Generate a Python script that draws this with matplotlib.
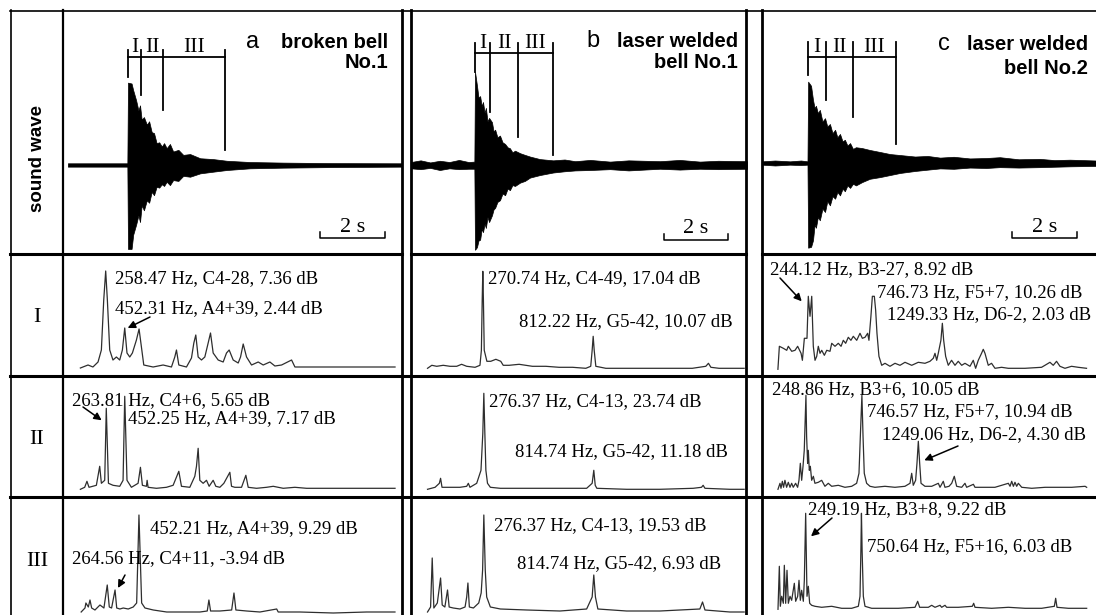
import matplotlib.pyplot as plt

plt.rcParams['font.family'] = 'Liberation Serif'

W, H = 1096, 615

# ---------------- sound waves (envelope of the signal) ----------------
wave_a_t = [0.15, 1.98, 2.00, 2.11, 2.16, 2.25, 2.32, 2.37, 2.42, 2.49, 2.58, 2.65, 2.73, 2.80, 2.88,
            2.96, 3.04, 3.11, 3.19, 3.29, 3.39, 3.55, 3.70, 3.91, 4.22, 4.62, 5.04, 5.75, 6.78, 8.32, 10.43]
wave_a_hi = [0.02, 0.02, 0.98, 0.97, 0.89, 0.77, 0.65, 0.71, 0.54, 0.57, 0.48, 0.52, 0.39, 0.38, 0.26,
             0.27, 0.22, 0.26, 0.20, 0.25, 0.16, 0.18, 0.12, 0.13, 0.08, 0.07, 0.05, 0.035, 0.028, 0.022, 0.02]
wave_a_lo = [-0.02, -0.02, -1.0, -1.0, -0.83, -0.71, -0.6, -0.68, -0.48, -0.54, -0.42, -0.45, -0.32, -0.36, -0.26,
             -0.27, -0.23, -0.25, -0.2, -0.24, -0.18, -0.19, -0.13, -0.14, -0.1, -0.08, -0.06, -0.04, -0.032,
             -0.025, -0.02]

wave_b_t = [0, 0.3, 0.6, 0.9, 1.2, 1.5, 1.8, 1.98, 2.0, 2.06, 2.11, 2.16, 2.21, 2.25, 2.30, 2.34, 2.39, 2.44,
            2.53, 2.58, 2.63, 2.70, 2.78, 2.86, 2.94, 3.02, 3.09, 3.17, 3.25, 3.41, 3.56, 3.72, 4.03, 4.44, 4.8,
            5.13, 5.6, 6.22, 6.8, 7.78, 8.4, 9.03, 9.6, 10.5]
wave_b_hi = [0.035, 0.055, 0.03, 0.05, 0.035, 0.06, 0.035, 0.04, 1.11, 0.95, 0.80, 0.82, 0.70, 0.75, 0.62,
             0.68, 0.52, 0.56, 0.51, 0.40, 0.42, 0.33, 0.35, 0.27, 0.25, 0.21, 0.20, 0.15, 0.17, 0.14, 0.12, 0.10,
             0.07, 0.055, 0.065, 0.045, 0.06, 0.04, 0.055, 0.045, 0.06, 0.04, 0.05, 0.045]
wave_b_lo = [-0.04, -0.05, -0.035, -0.06, -0.04, -0.05, -0.045, -0.045, -1.01, -0.98, -0.90, -0.89, -0.76,
             -0.80, -0.70, -0.75, -0.62, -0.68, -0.60, -0.53, -0.51, -0.44, -0.42, -0.34, -0.36, -0.28, -0.30,
             -0.24, -0.25, -0.21, -0.19, -0.15, -0.12, -0.09, -0.075, -0.065, -0.06, -0.05, -0.065, -0.045, -0.055,
             -0.045, -0.05, -0.045]

wave_c_t = [0, 0.4, 0.86, 1.2, 1.40, 1.42, 1.51, 1.57, 1.62, 1.66, 1.72, 1.78, 1.86, 1.94, 2.01, 2.09, 2.17,
            2.25, 2.32, 2.40, 2.48, 2.55, 2.63, 2.71, 2.80, 2.89, 3.08, 3.32, 3.63, 3.94, 4.25, 4.71, 5.1, 5.48,
            5.9, 6.40, 6.9, 7.32, 7.9, 8.55, 9.0, 9.48, 10.28]
wave_c_hi = [0.02, 0.03, 0.02, 0.03, 0.02, 0.98, 0.93, 0.76, 0.66, 0.69, 0.60, 0.64, 0.50, 0.54, 0.44, 0.47,
             0.36, 0.40, 0.31, 0.35, 0.26, 0.28, 0.21, 0.24, 0.17, 0.19, 0.18, 0.157, 0.133, 0.108, 0.096, 0.078,
             0.085, 0.065, 0.075, 0.055, 0.06, 0.07, 0.045, 0.05, 0.035, 0.04, 0.03]
wave_c_lo = [-0.02, -0.03, -0.02, -0.025, -0.02, -1.02, -1.01, -0.93, -0.74, -0.78, -0.65, -0.69, -0.55, -0.59,
             -0.46, -0.51, -0.40, -0.43, -0.35, -0.39, -0.31, -0.34, -0.27, -0.30, -0.25, -0.27, -0.23, -0.19,
             -0.17, -0.145, -0.12, -0.096, -0.08, -0.065, -0.07, -0.055, -0.06, -0.05, -0.055, -0.05, -0.045,
             -0.04, -0.035]

# segment boundaries I / II / III (s) and how far each marker drops
seg_a = [2.0, 2.4, 3.08, 4.98]
seg_a_end = [1.05, 0.83, 0.65, 0.18]
seg_b = [2.0, 2.47, 3.34, 4.44]
seg_b_end = [1.11, 0.63, 0.33, 0.12]
seg_c = [1.42, 1.97, 2.80, 4.12]
seg_c_end = [1.06, 0.76, 0.55, 0.23]
seg_names = ['I', 'II', 'III']

# ---------------- spectra: frequency (Hz) / level (relative) ----------------
f_aI = [0, 78, 128, 180, 214, 238, 258, 275, 299, 332, 367, 401, 428, 452, 475, 503, 530, 571, 598, 622,
        646, 741, 843, 928, 962, 979, 1003, 1081, 1132, 1156, 1176, 1200, 1234, 1268, 1302, 1326, 1353, 1404,
        1455, 1489, 1516, 1557, 1608, 1632, 1659, 1693, 1744, 1812, 1863, 1931, 1982, 2050, 2152, 2186, 2339,
        2577, 2917, 3206]
l_aI = [-1, 2, 0, 5, 17, 67, 96, 67, 17, 7, 10, 7, 17, 39, 14, 10, 14, 27, 38, 20, 2, 0, 2, 0, 10, 17, 2, 0,
        9, 24, 32, 10, 7, 10, 24, 34, 14, 7, 5, 14, 17, 7, 4, 10, 23, 10, 2, 5, 2, 5, 1, 2, 7, 0, 0, 0, 0, 0]

f_aII = [0, 44, 67, 88, 163, 197, 214, 248, 264, 286, 333, 401, 435, 452, 475, 520, 588, 612, 632, 673, 680,
         690, 775, 877, 945, 1003, 1030, 1115, 1166, 1183, 1200, 1217, 1251, 1285, 1312, 1353, 1380, 1421, 1462,
         1523, 1540, 1574, 1642, 1686, 1710, 1795, 1897, 1965, 2067, 2186, 2305, 2441, 2577, 2917, 3206]
l_aII = [-1, 1, 7, 1, 3, 22, 5, 8, 80, 5, 3, 2, 8, 92, 8, 1, 5, 21, 3, 2, 8, 1, 0, 1, 3, 17, 2, 1, 12, 22,
         40, 8, 5, 8, 2, 8, 2, 1, 5, 16, 2, 1, 1, 13, 1, 0, 1, 2, 0, 1, 0, 0, 0, 0, 0]

f_aIII = [0, 30, 37, 56, 69, 82, 108, 147, 178, 204, 220, 238, 265, 278, 303, 329, 368, 407, 434, 452, 473,
          499, 564, 616, 669, 798, 929, 986, 999, 1012, 1085, 1177, 1195, 1210, 1294, 1398, 1529, 1541, 1711,
          1971, 2233, 2454]
l_aIII = [-1, 3, 8, 4, 11, 3, 1, 6, 3, 26, 4, 3, 21, 3, 2, 3, 2, 4, 8, 96, 8, 3, 1, 0, -1, -1, -1, 0, 11, 0,
          0, 1, 18, 1, 0, -1, 2, -1, -1, -2, -1, -1]

f_bI = [0, 21, 45, 77, 110, 143, 167, 192, 233, 257, 264, 268, 271, 274, 278, 291, 310, 335, 359, 371, 400,
        449, 514, 580, 645, 711, 776, 800, 807, 812, 817, 825, 874, 972, 1135, 1298, 1364, 1377, 1389, 1429,
        1478, 1552]
l_bI = [-1, 2, 1, 2, 1, 1, 3, 1, 0, 2, 17, 67, 96, 67, 17, 6, 6, 8, 6, 2, 2, 3, 1, 1, 0, 0, -1, 1, 17, 31,
        17, 1, -1, -1, -1, -1, 1, 4, 0, -1, -1, -1]

f_bII = [0, 37, 58, 64, 71, 110, 159, 192, 200, 208, 241, 262, 271, 276, 281, 286, 294, 308, 357, 487, 649,
         780, 807, 815, 822, 830, 976, 1139, 1302, 1343, 1351, 1360, 1482, 1552]
l_bII = [-1, 1, 5, 10, 1, 1, 1, 2, 5, 1, 5, 18, 55, 95, 55, 18, 5, 1, 0, 0, 0, 0, 5, 18, 3, 0, -1, -1, 0, 1,
         3, 0, -1, -1]

f_bIII = [0, 15, 23, 31, 48, 64, 72, 85, 98, 106, 126, 159, 184, 192, 198, 205, 225, 251, 263, 270, 276, 283,
          290, 308, 357, 487, 649, 780, 807, 815, 823, 835, 976, 1139, 1335, 1348, 1360, 1482, 1552]
l_bIII = [-2, 3, 52, 2, 7, 32, 5, 3, 20, 3, 2, 1, 3, 13, 27, 3, 2, 7, 17, 40, 95, 40, 13, 3, 1, 0, -1, 1, 13,
          35, 13, 1, -1, -1, 1, 8, 0, -2, -2]

f_cI = [0, 11, 41, 67, 79, 105, 130, 150, 176, 186, 201, 221, 231, 244, 257, 269, 282, 295, 307, 320, 333,
        353, 371, 396, 409, 434, 459, 480, 497, 515, 535, 555, 573, 599, 624, 642, 662, 682, 692, 707, 718,
        733, 743, 753, 768, 789, 814, 852, 890, 928, 966, 1017, 1067, 1118, 1156, 1181, 1194, 1207, 1219, 1239,
        1250, 1260, 1275, 1295, 1320, 1346, 1371, 1397, 1422, 1460, 1485, 1503, 1523, 1548, 1561, 1574, 1599,
        1624, 1650, 1700, 1751, 1878, 2004, 2030, 2068, 2093, 2118, 2144, 2182, 2232, 2283, 2346]
l_cI = [-1, 22, 20, 18, 22, 17, 18, 22, 15, 8, 30, 30, 72, 52, 72, 22, 8, 12, 22, 15, 18, 13, 18, 17, 25, 22,
        25, 22, 28, 25, 31, 28, 32, 28, 35, 30, 31, 35, 28, 52, 72, 72, 58, 35, 12, 3, 5, 2, 5, 3, 6, 3, 6, 5,
        7, 10, 15, 8, 15, 28, 45, 28, 12, 3, 8, 3, 7, 3, 5, 2, 8, 0, 8, 15, 19, 15, 3, 5, 0, 1, 0, 0, 1, 3, 6,
        3, 7, 2, 0, 2, 1, 0]

f_cII = [0, 18, 27, 39, 50, 62, 77, 92, 107, 122, 136, 157, 175, 187, 199, 211, 223, 234, 249, 255, 264, 270,
         279, 288, 300, 315, 329, 359, 389, 418, 448, 478, 537, 596, 656, 700, 721, 733, 747, 757, 768, 789,
         819, 863, 952, 1041, 1130, 1175, 1190, 1204, 1225, 1237, 1249, 1261, 1273, 1308, 1368, 1427, 1442,
         1471, 1486, 1522, 1546, 1569, 1590, 1635, 1664, 1679, 1739, 1753, 1842, 1931, 2050, 2065, 2080, 2095,
         2109, 2124, 2139, 2169, 2258, 2377, 2495, 2614, 2733, 2747]
l_cII = [-1, 5, 0, 7, 1, 8, 1, 6, 1, 5, 1, 5, 1, 8, 25, 8, 22, 38, 93, 52, 25, 38, 18, 22, 8, 12, 5, 6, 8, 2,
         5, 2, 3, 1, 2, 5, 15, 52, 93, 52, 15, 5, 2, 1, 2, 1, 2, 5, 15, 3, 8, 25, 47, 25, 5, 2, 2, 5, 1, 7, 1,
         2, 5, 12, 2, 1, 5, 1, 4, 1, 1, 1, 5, 2, 7, 2, 6, 2, 5, 1, 0, 1, 1, 1, 2, 1]

f_cIII = [0, 12, 21, 33, 48, 57, 69, 81, 93, 108, 123, 147, 159, 177, 189, 201, 213, 228, 237, 249, 261, 273,
          285, 303, 333, 393, 483, 573, 663, 723, 738, 746, 751, 757, 768, 783, 843, 963, 1083, 1233, 1257,
          1275, 1353, 1383, 1413, 1458, 1473, 1503, 1518, 1623, 1749, 1761, 1773, 1923, 2073, 2223, 2373, 2487,
          2499, 2511, 2613, 2778]
l_cIII = [-1, 42, 2, 12, 5, 43, 5, 38, 5, 12, 8, 25, 7, 12, 28, 8, 18, 7, 28, 95, 12, 22, 5, 3, 2, 1, 2, 0, 0,
          2, 12, 58, 95, 58, 12, 2, 0, 0, 0, 1, 7, 1, 1, 3, 1, 3, 1, 3, 1, 1, 2, 5, 1, 0, 1, 0, 0, 2, 10, 1, 0, 0]

# peak labels
notes_aI = ['258.47 Hz, C4-28, 7.36 dB', '452.31 Hz, A4+39, 2.44 dB']
notes_aII = ['263.81 Hz, C4+6, 5.65 dB', '452.25 Hz, A4+39, 7.17 dB']
notes_aIII = ['452.21 Hz, A4+39, 9.29 dB', '264.56 Hz, C4+11, -3.94 dB']
notes_bI = ['270.74 Hz, C4-49, 17.04 dB', '812.22 Hz, G5-42, 10.07 dB']
notes_bII = ['276.37 Hz, C4-13, 23.74 dB', '814.74 Hz, G5-42, 11.18 dB']
notes_bIII = ['276.37 Hz, C4-13, 19.53 dB', '814.74 Hz, G5-42, 6.93 dB']
notes_cI = ['244.12 Hz, B3-27, 8.92 dB', '746.73 Hz, F5+7, 10.26 dB', '1249.33 Hz, D6-2, 2.03 dB']
notes_cII = ['248.86 Hz, B3+6, 10.05 dB', '746.57 Hz, F5+7, 10.94 dB', '1249.06 Hz, D6-2, 4.30 dB']
notes_cIII = ['249.19 Hz, B3+8, 9.22 dB', '750.64 Hz, F5+16, 6.03 dB']

titles = [('a', 'broken bell', 'No.1'), ('b', 'laser welded', 'bell No.1'), ('c', 'laser welded', 'bell No.2')]

# ---------------- layout ----------------
fig = plt.figure(figsize=(W / 100, H / 100), dpi=100)

cols = [(63, 402), (411, 747), (762, 1096)]
rows = [(10, 254), (254, 375), (375, 497), (497, 615)]


def cell(c, r):
    x0, x1 = cols[c]
    y0, y1 = rows[r]
    ax = fig.add_axes([x0 / W, 1 - y1 / H, (x1 - x0) / W, (y1 - y0) / H])
    ax.axis('off')
    return ax


# overlay in pixel units for frame lines and row labels
frame = fig.add_axes([0, 0, 1, 1], zorder=5)
frame.set_xlim(0, W)
frame.set_ylim(H, 0)
frame.axis('off')

# sound waves
waves = [(wave_a_t, wave_a_hi, wave_a_lo, seg_a, seg_a_end, 1.29, 1.37, (7.9, 9.9), -0.87, (-1.06, 1.845)),
         (wave_b_t, wave_b_hi, wave_b_lo, seg_b, seg_b_end, 1.33, 1.45, (7.9, 9.9), -0.89, (-1.06, 1.845)),
         (wave_c_t, wave_c_hi, wave_c_lo, seg_c, seg_c_end, 1.28, 1.46, (7.7, 9.7), -0.90, (-1.096, 1.843))]
spans = [10.43, 10.5, 10.28]
title_pos = [(0.959, 0.844, 0.762, 0.578), (0.973, 0.850, 0.762, 0.56), (0.976, 0.836, 0.738, 0.563)]

for i, (t, hi, lo, seg, seg_end, bar_y, top_y, sbar, sbar_y, ylim) in enumerate(waves):
    ax = cell(i, 0)
    ax.set_xlim(0, spans[i])
    ax.set_ylim(*ylim)
    ax.fill_between(t, lo, hi, color='black', lw=0.5)
    # segment markers
    ax.plot([seg[0], seg[-1]], [bar_y, bar_y], color='black', lw=1.3)
    for s, e in zip(seg, seg_end):
        ax.plot([s, s], [top_y, e], color='black', lw=1.3)
    for k, name in enumerate(seg_names):
        ax.text((seg[k] + seg[k + 1]) / 2, bar_y + 0.06, name, ha='center', va='baseline', fontsize=15.5)
    # 2 s scale bar
    ax.plot([sbar[0], sbar[0], sbar[1], sbar[1]], [sbar_y + 0.07, sbar_y, sbar_y, sbar_y + 0.07],
            color='black', lw=1.1)
    ax.text((sbar[0] + sbar[1]) / 2, sbar_y + 0.075, '2 s', ha='center', va='baseline', fontsize=16)
    # titles
    letter, line1, line2 = titles[i]
    xr, yb1, yb2, xl = title_pos[i]
    ax.text(xr, yb1, line1, transform=ax.transAxes, ha='right', va='baseline', fontsize=14.5,
            fontweight='bold', family='Liberation Sans')
    ax.text(xr, yb2, line2, transform=ax.transAxes, ha='right', va='baseline', fontsize=14.5,
            fontweight='bold', family='Liberation Sans')
    ax.text(xl, yb1, letter, transform=ax.transAxes, ha='right', va='baseline', fontsize=17,
            family='Liberation Sans')

# spectra
spectra = [[(f_aI, l_aI), (f_aII, l_aII), (f_aIII, l_aIII)],
           [(f_bI, l_bI), (f_bII, l_bII), (f_bIII, l_bIII)],
           [(f_cI, l_cI), (f_cII, l_cII), (f_cIII, l_cIII)]]
xlims = [[(-177, 3277), (-177, 3277), (-142, 2509)],
         [(-81, 1566), (-81, 1566), (-81, 1566)],
         [(-121, 2418), (-142, 2830), (-144, 2862)]]
ylims = [[(-8, 113), (-8.7, 113.3), (-4, 114)],
         [(-7.7, 113.3), (-8.7, 113.3), (-5, 113)],
         [(-6.7, 114.3), (-8.7, 113.3), (-6.7, 111.3)]]
notes = [[notes_aI, notes_aII, notes_aIII], [notes_bI, notes_bII, notes_bIII], [notes_cI, notes_cII, notes_cIII]]
note_xy = [[[(115, 283.5), (115, 313.5)], [(72, 405), (128, 423.5)], [(150, 533.5), (72, 563.5)]],
           [[(488, 283.5), (519, 326.5)], [(489, 406.5), (515, 456.5)], [(494, 530.5), (517, 568.5)]],
           [[(770, 274.5), (877, 297.5), (887, 319.5)], [(772, 394.5), (867, 416.5), (882, 439.5)],
            [(808, 514.5), (867, 551.5)]]]
# arrows: (column, row, tail in px, head at (Hz, level))
arrows = [(0, 0, (150, 317), (482, 39)), (0, 1, (83, 407), (217, 68)), (0, 2, (125, 575), (288, 23)),
          (2, 0, (780, 278), (181, 67)), (2, 1, (958, 446), (1302, 28)), (2, 2, (832, 518), (297, 72))]

spec_axes = {}
for c in range(3):
    for r in range(3):
        ax = cell(c, r + 1)
        f, lv = spectra[c][r]
        ax.plot(f, lv, color='#2e2e2e', lw=0.9)
        ax.set_xlim(*xlims[c][r])
        ax.set_ylim(*ylims[c][r])
        spec_axes[(c, r)] = ax
        for txt, (px, py) in zip(notes[c][r], note_xy[c][r]):
            frame.text(px, py, txt, ha='left', va='baseline', fontsize=13.5)

for c, r, tail, head in arrows:
    ax = spec_axes[(c, r)]
    frame.annotate('', xy=head, xycoords=ax.transData, xytext=tail, textcoords=frame.transData,
                   arrowprops=dict(arrowstyle='-|>', color='black', lw=1.1, mutation_scale=11,
                                   shrinkA=0, shrinkB=0))

# left column labels
frame.text(38, 159, 'sound wave', rotation=90, ha='center', va='center', fontsize=13.5,
           fontweight='bold', family='Liberation Sans')
for name, y in zip(seg_names, [318, 439, 561]):
    frame.text(37, y, name, ha='center', va='center', fontsize=16)

# table lines
frame.plot([10, W], [10.5, 10.5], color='black', lw=1.2)
frame.plot([10.5, 10.5], [10, H], color='black', lw=1.2)
frame.plot([63, 63], [10, H], color='black', lw=1.6)
for x in [401.5, 410.7, 746.2, 762]:
    frame.plot([x, x], [10, H], color='black', lw=2.0)
for x0, x1 in [(10, 401.5), (410.7, 746.2), (762, W)]:
    frame.plot([x0, x1], [254.3, 254.3], color='black', lw=2.2)
for y in [375.5, 497]:
    frame.plot([10, W], [y, y], color='black', lw=2.2)

fig.savefig('out.png', dpi=100)
